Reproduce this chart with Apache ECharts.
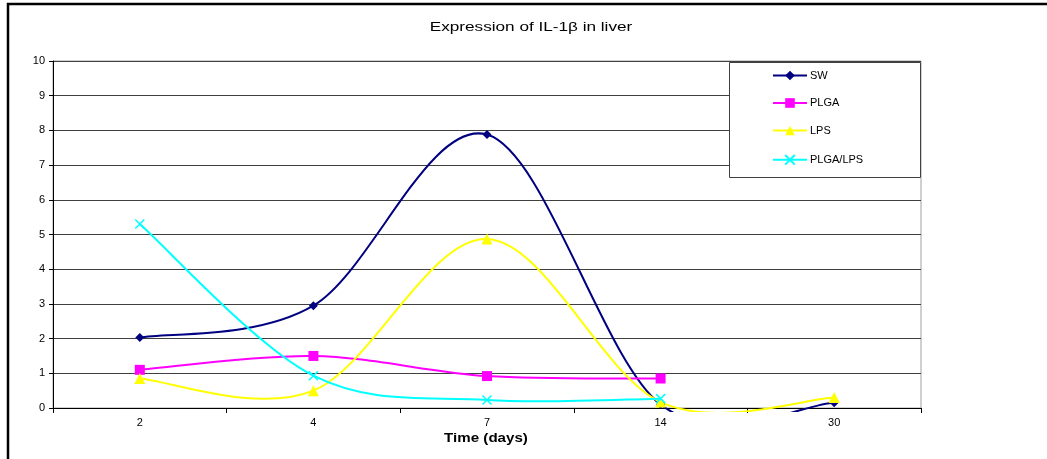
<!DOCTYPE html>
<html>
<head>
<meta charset="utf-8">
<script src="https://cdn.jsdelivr.net/npm/echarts@6/dist/echarts.min.js"></script>
<style>
html,body{margin:0;padding:0;background:#fff;}
#chart{width:1047px;height:459px;}
</style>
</head>
<body>
<div id="chart"></div>
<script>
const categories = ['2', '4', '7', '14', '30'];
const swValues = [2.03, 2.95, 7.88, 0.1, 0.15];
const plgaValues = [1.1, 1.5, 0.92, 0.85, null];
const lpsValues = [0.85, 0.5, 4.87, 0.17, 0.3];
const plgaLpsValues = [5.3, 0.93, 0.23, 0.27, null];
const yTicks = { min: 0, max: 10, interval: 1 };

const chart = echarts.init(document.getElementById('chart'), null, { renderer: 'canvas' });
const font = 'Liberation Sans, Arial, sans-serif';

// Excel-style smoothed curve (Catmull-Rom bezier, overshoot allowed), drawn through the axes via api.coord
function curveSeries(values, color) {
  return {
    type: 'custom', data: [0], z: 2, silent: true, animation: false,
    renderItem: function (params, api) {
      const pts = [];
      values.forEach(function (v, i) { if (v !== null) pts.push(api.coord([i, v])); });
      const n = pts.length;
      const P = function (i) { return pts[Math.max(0, Math.min(n - 1, i))]; };
      let d = 'M' + pts[0][0] + ',' + pts[0][1];
      for (let i = 0; i < n - 1; i++) {
        const p0 = P(i - 1), p1 = P(i), p2 = P(i + 1), p3 = P(i + 2);
        const c1x = p1[0] + (p2[0] - p0[0]) / 6, c1y = p1[1] + (p2[1] - p0[1]) / 6;
        const c2x = p2[0] - (p3[0] - p1[0]) / 6, c2y = p2[1] - (p3[1] - p1[1]) / 6;
        d += ' C' + c1x + ',' + c1y + ' ' + c2x + ',' + c2y + ' ' + p2[0] + ',' + p2[1];
      }
      const cs = params.coordSys;
      return {
        type: 'group',
        children: [{
          type: 'path',
          shape: { pathData: d },
          style: { fill: null, stroke: color, lineWidth: 2 },
          clipPath: { type: 'rect', shape: { x: cs.x, y: cs.y - 5, width: cs.width, height: cs.height + 9 } }
        }]
      };
    }
  };
}
function mk(name, data, color, symbol, size, extra) {
  return Object.assign({
    name: name, type: 'line', data: data, z: 3,
    symbol: symbol, symbolSize: size, showSymbol: true,
    lineStyle: { color: color, width: 2, opacity: 0 },
    itemStyle: { color: color, borderColor: color, borderWidth: 0 },
    emphasis: { disabled: true }, animation: false
  }, extra || {});
}
chart.setOption({
  animation: false,
  backgroundColor: '#fff',
  grid: { left: 53, right: 126, top: 61, bottom: 51, show: true, borderColor: '#a0a0a0', borderWidth: 1 },
  legend: {
    orient: 'vertical', left: 772, top: 70, itemWidth: 34, itemHeight: 12, itemGap: 16.5,
    padding: 0, selectedMode: false,
    lineStyle: { opacity: 1, width: 2 },
    textStyle: { fontFamily: font, fontSize: 11, color: '#000', padding: [0, 0, 0, -2] },
    data: ['SW', 'PLGA', 'LPS', 'PLGA/LPS']
  },
  graphic: [
    { type: 'rect', shape: { x: 729.5, y: 62.5, width: 191, height: 115 }, style: { fill: '#fff', stroke: '#404040', lineWidth: 1 }, z: 1 },
    { type: 'polyline', shape: { points: [[8, 470], [8, 4], [1060, 4]] }, style: { fill: null, stroke: '#000', lineWidth: 2.5 }, z: 100 },
    { type: 'text', x: 531, y: 27, scaleX: 1.32, z: 100,
      style: { text: 'Expression of IL-1β in liver', fontFamily: font, fontSize: 13, fill: '#000', textAlign: 'center', textVerticalAlign: 'middle' } },
    { type: 'text', x: 486, y: 439, scaleX: 1.26, z: 100,
      style: { text: 'Time (days)', fontFamily: font, fontSize: 12, fontWeight: 'bold', fill: '#000', textAlign: 'center', textVerticalAlign: 'middle' } }
  ],
  xAxis: {
    type: 'category', data: categories, boundaryGap: true,
    axisLine: { lineStyle: { color: '#000', width: 1 } },
    axisTick: { show: true, length: 5, inside: false, lineStyle: { color: '#000' } },
    axisLabel: { fontFamily: font, fontSize: 11, color: '#000', margin: 9 },
    splitLine: { show: false }
  },
  yAxis: {
    type: 'value', min: yTicks.min, max: yTicks.max, interval: yTicks.interval,
    axisLine: { show: true, lineStyle: { color: '#000', width: 1 } },
    axisTick: { show: true, length: 4, lineStyle: { color: '#000' } },
    axisLabel: { fontFamily: font, fontSize: 11, color: '#000', margin: 8 },
    splitLine: { show: true, lineStyle: { color: '#404040', width: 1 } }
  },
  series: [
    curveSeries(swValues, '#000080'),
    curveSeries(plgaValues, '#FF00FF'),
    curveSeries(lpsValues, '#FFFF00'),
    curveSeries(plgaLpsValues, '#00FFFF'),
    mk('SW', swValues, '#000080', 'diamond', 9),
    mk('PLGA', plgaValues, '#FF00FF', 'rect', 10),
    mk('LPS', lpsValues, '#FFFF00', 'triangle', 11),
    mk('PLGA/LPS', plgaLpsValues, '#00FFFF', 'path://M0,0L10,10M10,0L0,10', 9,
      { itemStyle: { color: 'none', borderColor: '#00FFFF', borderWidth: 1.5 } })
  ]
});
</script>
</body>
</html>
